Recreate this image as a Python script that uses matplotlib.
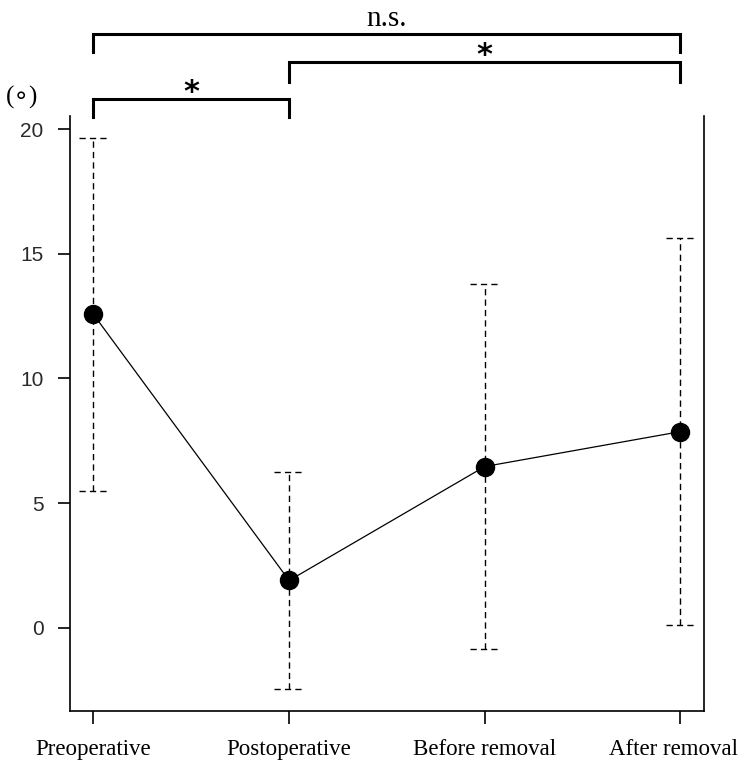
import matplotlib
matplotlib.use("Agg")
import matplotlib.pyplot as plt
import matplotlib.transforms as mtransforms
import numpy as np

# data
groups = ['Preoperative', 'Postoperative', 'Before removal', 'After removal']
means = [12.57, 1.90, 6.47, 7.87]
sds = [7.07, 4.35, 7.30, 7.77]
y_ticks = [0, 5, 10, 15, 20]

# significance brackets: (start group, end group, label)
brackets = [(0, 1, '*'), (1, 3, '*'), (0, 3, 'n.s.')]

x = np.arange(1, len(groups) + 1)
means = np.array(means)
sds = np.array(sds)
lo = means - sds
hi = means + sds

fig = plt.figure(figsize=(7.5, 7.67), dpi=100)
ax = fig.add_axes([0.0933, 0.073, 0.8453, 0.7757])

# dashed error bars with dashed caps
dash = (0, (4.5, 3))
ax.vlines(x, lo, hi, colors='black', linestyles=dash, linewidth=1)
cap = 0.075
ax.hlines(lo, x - cap, x + cap, colors='black', linestyles=dash, linewidth=1)
ax.hlines(hi, x - cap, x + cap, colors='black', linestyles=dash, linewidth=1)

ax.plot(x, means, color='black', linewidth=0.9, marker='o', markersize=13)

rng = hi.max() - lo.min()
ax.set_ylim(lo.min() - 0.04 * rng, hi.max() + 0.04 * rng)
ax.set_xlim(0.88, 4.12)

ax.spines['top'].set_visible(False)
for s in ['left', 'right', 'bottom']:
    ax.spines[s].set_linewidth(1.2)

ax.set_yticks(y_ticks)
ax.set_yticklabels([str(t) for t in y_ticks], fontfamily='Liberation Sans', fontsize=15, color='#2a2a2a')
ax.set_xticks(x)
ax.set_xticklabels(groups, fontfamily='Liberation Serif', fontsize=16.5)
ax.tick_params(axis='both', direction='out', length=9, width=1.2)
ax.tick_params(axis='x', pad=11)
ax.tick_params(axis='y', pad=10)

# last label sits a little left of its tick, as in the original
last = ax.get_xticklabels()[-1]
last.set_transform(last.get_transform() + mtransforms.ScaledTranslation(-7 / 100, 0, fig.dpi_scale_trans))

# brackets above the plot
levels = [(21.2, 20.48, 21.45), (22.68, 21.88, 22.95), (23.8, 23.08, 24.4)]
for (a, b, lab), (ytop, yend, ytxt) in zip(brackets, levels):
    ax.plot([x[a], x[a], x[b], x[b]], [yend, ytop, ytop, yend], color='black',
            linewidth=2.2, clip_on=False, solid_joinstyle='miter')
    if lab == '*':
        ax.text((x[a] + x[b]) / 2, ytxt, lab, ha='center', va='center', fontsize=22,
                fontfamily='DejaVu Sans', fontweight='bold', clip_on=False)
    else:
        ax.text((x[a] + x[b]) / 2, ytxt, lab, ha='center', va='center', fontsize=21,
                fontfamily='Liberation Serif', clip_on=False)

fig.text(0.0075, 1 - 97 / 767, '(∘)', ha='left', va='center', fontsize=18,
         fontfamily=['Liberation Serif', 'DejaVu Sans'])

fig.savefig('out.png', dpi=100)
